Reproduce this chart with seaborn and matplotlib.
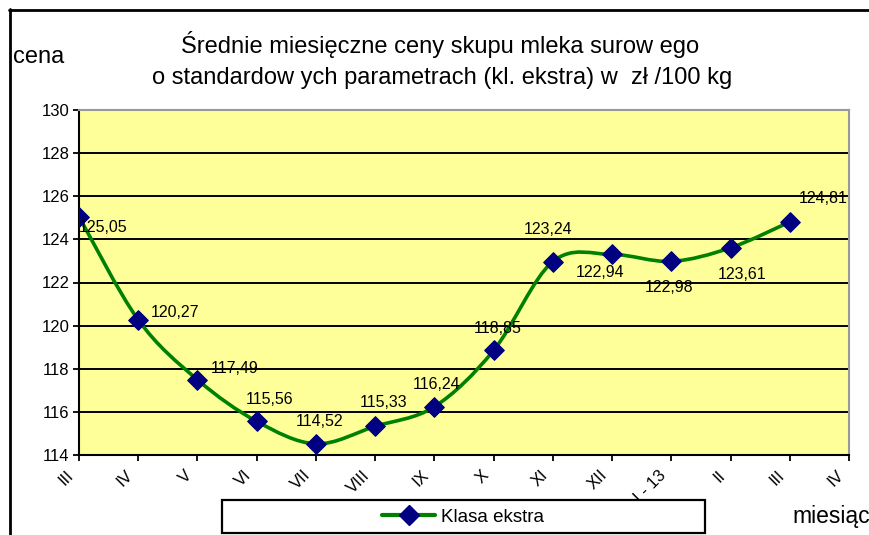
import numpy as np
import pandas as pd
import matplotlib
matplotlib.use("Agg")
import matplotlib.pyplot as plt
import matplotlib.transforms as mtransforms
import seaborn as sns
from matplotlib.path import Path
from matplotlib.patches import PathPatch, Rectangle
from matplotlib.lines import Line2D

# miesiące na osi (ostatni IV bez danych)
months = ["III", "IV", "V", "VI", "VII", "VIII", "IX", "X", "XI", "XII",
          "I - 13", "II", "III", "IV"]

# ceny (zł/100 kg)
prices = [125.05, 120.27, 117.49, 115.56, 114.52, 115.33, 116.24, 118.85,
          122.97, 123.30, 122.98, 123.61, 124.81]

# etykiety danych tak jak na oryginale
price_labels = ["125,05", "120,27", "117,49", "115,56", "114,52", "115,33",
                "116,24", "118,85", "123,24", "122,94", "122,98", "123,61",
                "124,81"]

# przesuniecia etykiet (px)
label_offsets = [(24, -11), (37, 7), (37, 11), (13, 22), (4, 22), (8, 24),
                 (2, 22), (4, 22), (-5, 32), (-12, -18), (-2, -26), (12, -27),
                 (33, 23)]

df = pd.DataFrame({"idx": np.arange(len(prices)), "cena": prices})

sns.set_theme(style="white")
plt.rcParams["font.family"] = ["Liberation Sans", "DejaVu Sans"]
plt.rcParams["text.color"] = "black"
plt.rcParams["xtick.color"] = "black"
plt.rcParams["ytick.color"] = "black"
plt.rcParams["xtick.labelcolor"] = "black"
plt.rcParams["ytick.labelcolor"] = "black"

W, H = 870, 535
fig = plt.figure(figsize=(W / 100, H / 100), dpi=100)
ax = fig.add_axes([79 / W, 1 - 455 / H, 770 / W, 345 / H])
ax.set_facecolor("#FFFF99")

# wygladzona linia (bezier jak w Excelu)
x = df["idx"].to_numpy(dtype=float)
y = df["cena"].to_numpy(dtype=float)
pts = np.column_stack([x, y])
verts = [pts[0]]
codes = [Path.MOVETO]
n = len(pts)
for i in range(n - 1):
    p0 = pts[i - 1] if i > 0 else pts[i]
    p1 = pts[i]
    p2 = pts[i + 1]
    p3 = pts[i + 2] if i + 2 < n else pts[i + 1]
    verts += [p1 + (p2 - p0) / 6, p2 - (p3 - p1) / 6, p2]
    codes += [Path.CURVE4] * 3
ax.add_patch(PathPatch(Path(verts, codes), fill=False, edgecolor="#008000",
                       lw=2.6, zorder=3, capstyle="round"))

sns.scatterplot(data=df, x="idx", y="cena", marker="D", s=100,
                color="#000080", edgecolor="#000080", zorder=4, ax=ax,
                legend=False)

for i, (lab, off) in enumerate(zip(price_labels, label_offsets)):
    ax.annotate(lab, (x[i], y[i]), xytext=(off[0] * 0.72, off[1] * 0.72),
                textcoords="offset points", ha="center", va="center",
                fontsize=11.5, color="black", zorder=5)

ax.set_xlim(0, len(months) - 1)
ax.set_ylim(114, 130)
ax.set_yticks(np.arange(114, 131, 2))
ax.set_xticks(np.arange(len(months)))
ax.set_xticklabels(months, rotation=45, ha="right", va="top",
                   rotation_mode="anchor")
ax.tick_params(axis="both", direction="out", length=4, width=1.3,
               color="black", labelsize=12, pad=3, bottom=True, left=True)
ax.tick_params(axis="x", pad=5)
shift = mtransforms.ScaledTranslation(-0.13, 0, fig.dpi_scale_trans)
for lab in ax.get_xticklabels():
    lab.set_transform(lab.get_transform() + shift)
ax.set_xlabel("")
ax.set_ylabel("")
for yv in np.arange(116, 130, 2):
    ax.axhline(yv, color="black", lw=1.4, zorder=1)
for s in ["top", "right"]:
    ax.spines[s].set_color("#999999")
    ax.spines[s].set_linewidth(1.5)
for s in ["left", "bottom"]:
    ax.spines[s].set_color("black")
    ax.spines[s].set_linewidth(1.5)

# ramka wykresu
fig.add_artist(Line2D([9 / W, 1], [1 - 10 / H, 1 - 10 / H], color="black",
                      lw=2, transform=fig.transFigure))
fig.add_artist(Line2D([10 / W, 10 / W], [0, 1 - 9 / H], color="black",
                      lw=2, transform=fig.transFigure))

fig.text(440 / W, 1 - 45 / H, "Średnie miesięczne ceny skupu mleka surow ego",
         ha="center", va="center", fontsize=17)
fig.text(442 / W, 1 - 78 / H,
         "o standardow ych parametrach (kl. ekstra) w  zł /100 kg",
         ha="center", va="center", fontsize=17)
fig.text(13 / W, 1 - 57 / H, "cena", ha="left", va="center", fontsize=17)
fig.text(792 / W, 1 - 517 / H, "miesiąc", ha="left", va="center", fontsize=16.5)

# legenda
fig.add_artist(Rectangle((222 / W, 1 - 533 / H), 483 / W, 33 / H,
                         transform=fig.transFigure, facecolor="white",
                         edgecolor="black", lw=1.6, zorder=6))
handle = Line2D([], [], color="#008000", lw=3, marker="D", markersize=10,
                markerfacecolor="#000080", markeredgecolor="#000080")
leg = fig.legend([handle], ["Klasa ekstra"], loc="center",
                 bbox_to_anchor=(463 / W, 1 - 517 / H), frameon=False,
                 fontsize=13.5, handlelength=2.8, handletextpad=0.3)
leg.set_zorder(7)

fig.savefig("out.png", dpi=100)
